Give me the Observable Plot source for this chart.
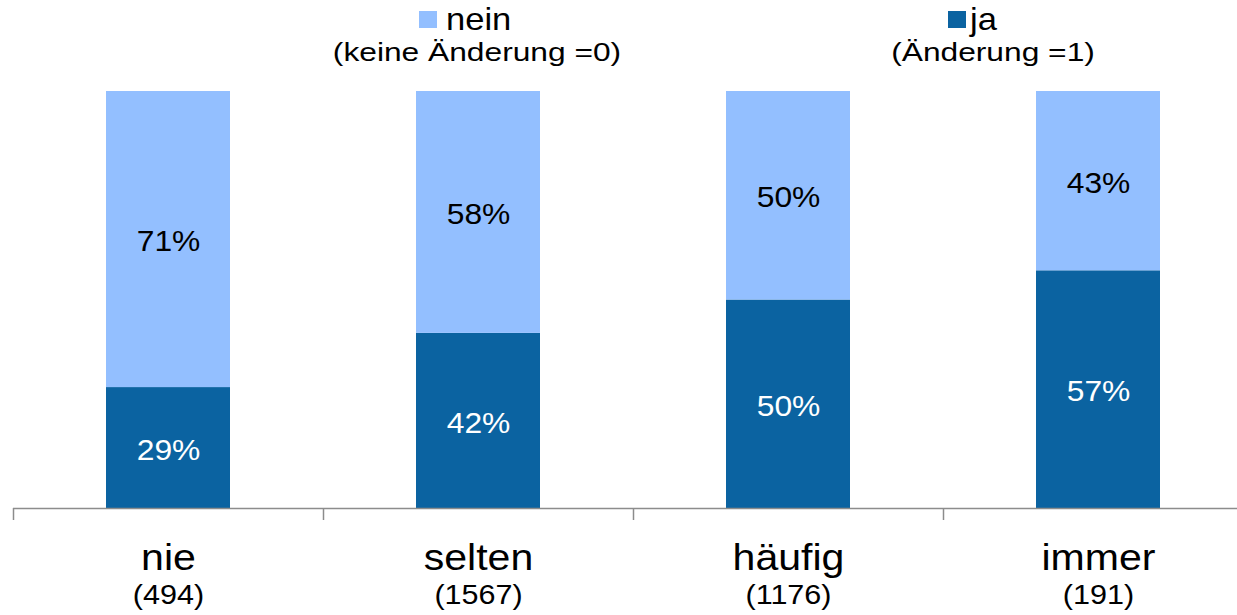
<!DOCTYPE html>
<html>
<head>
<meta charset="utf-8">
<script src="https://cdn.jsdelivr.net/npm/d3@7"></script>
<script src="https://cdn.jsdelivr.net/npm/@observablehq/plot@0.6"></script>
<style>
  html, body { margin: 0; padding: 0; background: #fff; }
  body { font-family: "Liberation Sans", Arial, sans-serif; color: #000; }
  #wrap { position: relative; width: 1237px; }
  #legend { position: relative; width: 1237px; height: 80px; }
  #legend .sw { position: absolute; width: 18px; height: 17px; top: 11px; }
  #legend .lab { position: absolute; font-size: 32px; line-height: 32px; top: 3px; white-space: nowrap;
                 transform-origin: left center; transform: scaleX(1.08); }
  #legend .sub { position: absolute; font-size: 26px; line-height: 24px; top: 40px; white-space: nowrap;
                 transform-origin: center; transform: translateX(-50%) scaleX(1.22); }
  svg { display: block; }
</style>
</head>
<body>
<div id="wrap">
  <div id="legend"></div>
  <div id="chart"></div>
</div>
<script>
// ---- data ----
const categories = ["nie", "selten", "häufig", "immer"];
const counts = ["(494)", "(1567)", "(1176)", "(191)"];
const ja = [29, 42, 50, 57];      // Änderung = 1
const nein = [71, 58, 50, 43];    // keine Änderung = 0
const responses = ["nein", "ja"];
const legendTitles = ["nein", "ja"];
const legendSubtitles = ["(keine Änderung =0)", "(Änderung =1)"];
const colors = ["#93BFFF", "#0B63A1"];

// long table for the library
const table = [];
categories.forEach((c, i) => {
  table.push({cat: c, resp: "ja", value: ja[i]});
  table.push({cat: c, resp: "nein", value: nein[i]});
});

// ---- legend (HTML above the SVG) ----
const legend = document.getElementById("legend");
const legendPos = [{sw: 419, lab: 446, sub: 477}, {sw: 948, lab: 970, sub: 993}];
responses.forEach((r, i) => {
  const p = legendPos[i];
  const sw = document.createElement("div");
  sw.className = "sw"; sw.style.left = p.sw + "px"; sw.style.background = colors[i];
  legend.appendChild(sw);
  const lab = document.createElement("div");
  lab.className = "lab"; lab.style.left = p.lab + "px"; lab.textContent = legendTitles[i];
  legend.appendChild(lab);
  const sub = document.createElement("div");
  sub.className = "sub"; sub.style.left = p.sub + "px"; sub.textContent = legendSubtitles[i];
  legend.appendChild(sub);
});

// ---- chart ----
const W = 1237, H = 535;
const xRange = [13, 1253];
const step = (xRange[1] - xRange[0]) / categories.length;
const stackOrder = ["ja", "nein"];

const chart = Plot.plot({
  width: W,
  height: H,
  marginLeft: 13,
  marginRight: 0,
  marginTop: 0,
  marginBottom: 0,
  style: {fontFamily: "'Liberation Sans', Arial, sans-serif", background: "white"},
  x: {domain: categories, range: xRange, paddingInner: 0.6, paddingOuter: 0.3, axis: null},
  y: {domain: [0, 100], range: [428, 11], axis: null},
  color: {domain: responses, range: colors},
  marks: [
    Plot.barY(table, {x: "cat", y: "value", fill: "resp", order: stackOrder}),
    Plot.text(table, Plot.stackY({
      x: "cat", y: "value", z: "resp", order: stackOrder,
      text: d => d.value + "%",
      fill: d => d.resp === "ja" ? "white" : "black",
      fontSize: 30, dy: 2
    })),
    // baseline axis
    Plot.ruleY([0], {stroke: "#8c8c8c", strokeWidth: 1.5}),
    // tick marks at band boundaries
    Plot.ruleX(categories, {x: d => d, dx: -step / 2, y1: 0, y2: 0, insetBottom: -12, stroke: "#8c8c8c", strokeWidth: 1.5}),
    // category labels
    Plot.text(categories, {x: d => d, y: 0, dy: 50, text: d => d, fontSize: 36, fill: "black"}),
    Plot.text(categories, {x: d => d, y: 0, dy: 87, text: (d, i) => counts[i], fontSize: 28, fill: "black"})
  ]
});
document.getElementById("chart").appendChild(chart);

// slight horizontal widening of the glyphs, as in the reference
const stretch = [1.06, 1.14, 1.09];
d3.select(chart).selectAll('g[aria-label="text"]').each(function(_, gi) {
  const k = stretch[gi] || 1;
  d3.select(this).selectAll("text").each(function() {
    const w = this.getComputedTextLength();
    this.setAttribute("textLength", (w * k).toFixed(1));
    this.setAttribute("lengthAdjust", "spacingAndGlyphs");
  });
});
</script>
</body>
</html>
